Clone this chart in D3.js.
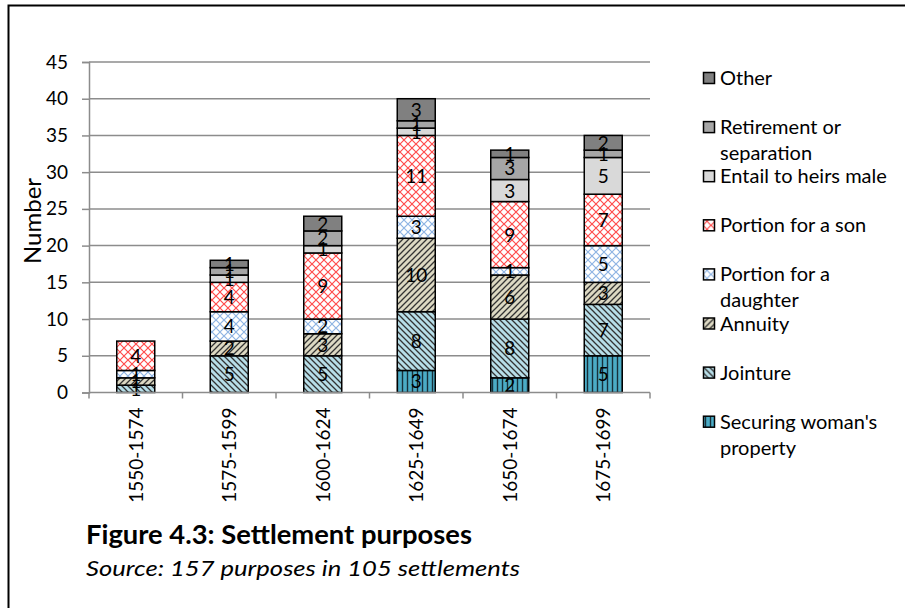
<!DOCTYPE html>
<html><head><meta charset="utf-8">
<script src="https://cdn.jsdelivr.net/npm/d3@7"></script>
<style>
body{margin:0;background:#fff}
svg{display:block}
text{font-family:Lato,"Open Sans",sans-serif;fill:#000}
</style>
</head><body>
<svg id="chart" width="905" height="608"></svg>
<script>
// Settlement purposes per 25-year period
const periods = ["1550-1574","1575-1599","1600-1624","1625-1649","1650-1674","1675-1699"];
const purposes = ["securing","jointure","annuity","daughter","son","entail","retirement","other"];
const securing   = [0, 0, 0, 3, 2, 5];
const jointure   = [1, 5, 5, 8, 8, 7];
const annuity    = [1, 2, 3, 10, 6, 3];
const daughter   = [1, 4, 2, 3, 1, 5];
const son        = [4, 4, 9, 11, 9, 7];
const entail     = [0, 1, 1, 1, 3, 5];
const retirement = [0, 1, 2, 1, 3, 1];
const other      = [0, 1, 2, 3, 1, 2];
const legendLabels = {
  other: ["Other"],
  retirement: ["Retirement or", "separation"],
  entail: ["Entail to heirs male"],
  son: ["Portion for a son"],
  daughter: ["Portion for a", "daughter"],
  annuity: ["Annuity"],
  jointure: ["Jointure"],
  securing: ["Securing woman's", "property"]
};
const yTicks = [0, 5, 10, 15, 20, 25, 30, 35, 40, 45];

const seriesValues = {securing, jointure, annuity, daughter, son, entail, retirement, other};
const rows = periods.map((p, i) => {
  const r = {period: p};
  purposes.forEach(k => r[k] = seriesValues[k][i]);
  return r;
});

const svg = d3.select("#chart");

// outer frame (runs off the right and bottom edges)
svg.append("rect").attr("x", 8.5).attr("y", 5.5).attr("width", 1000).attr("height", 1000)
  .attr("fill", "none").attr("stroke", "#000").attr("stroke-width", 2);

// fill patterns
const defs = svg.append("defs");
function pat(id, size, bg) {
  const p = defs.append("pattern").attr("id", id).attr("patternUnits", "userSpaceOnUse")
    .attr("width", size).attr("height", size);
  p.append("rect").attr("width", size).attr("height", size).attr("fill", bg);
  return p;
}
pat("p-securing", 5, "#4bacc6").append("line").attr("x1", 2.5).attr("x2", 2.5).attr("y1", 0).attr("y2", 5)
  .attr("stroke", "#17303a").attr("stroke-width", 1.4);
pat("p-jointure", 6, "#b7dee8").append("path").attr("d", "M0,0L6,6M-1,5L1,7M5,-1L7,1")
  .attr("stroke", "#333").attr("stroke-width", 1.3);
pat("p-annuity", 6, "#ddd9c3").append("path").attr("d", "M0,6L6,0M-1,1L1,-1M5,7L7,5")
  .attr("stroke", "#333").attr("stroke-width", 1.3);
pat("p-daughter", 8, "#fff").append("path").attr("d", "M0,0L8,8M0,8L8,0")
  .attr("stroke", "#8eb4e3").attr("stroke-width", 1.2);
pat("p-son", 8, "#fff").append("path").attr("d", "M0,0L8,8M0,8L8,0")
  .attr("stroke", "#ff4b4b").attr("stroke-width", 1.2);
const fills = {
  securing: "url(#p-securing)", jointure: "url(#p-jointure)", annuity: "url(#p-annuity)",
  daughter: "url(#p-daughter)", son: "url(#p-son)",
  entail: "#d9d9d9", retirement: "#a6a6a6", other: "#808080"
};

// scales
const x = d3.scaleBand().domain(periods).range([89, 650]).padding(0);
const y = d3.scaleLinear().domain([0, 45]).range([392.5, 62]);
const barW = 38;

// gridlines
svg.append("g").selectAll("line").data(yTicks.filter(t => t > 0)).join("line")
  .attr("x1", 89).attr("x2", 650).attr("y1", d => y(d)).attr("y2", d => y(d))
  .attr("stroke", "#8c8c8c").attr("stroke-width", 1.5);

// y axis
const yAxis = svg.append("g").attr("transform", "translate(89,0)")
  .call(d3.axisLeft(y).tickValues(yTicks).tickSize(7).tickPadding(14));
yAxis.select(".domain").attr("stroke", "#8c8c8c").attr("stroke-width", 1.5);
yAxis.selectAll(".tick line").attr("stroke", "#8c8c8c").attr("stroke-width", 1.5);
yAxis.selectAll(".tick text").style("font-size", "19px").style("font-family", "Lato");

// stacked bars
const stack = d3.stack().keys(purposes)(rows);
const layers = svg.append("g").selectAll("g").data(stack).join("g")
  .attr("fill", d => fills[d.key]);
layers.selectAll("rect").data(d => d.filter(s => s[1] - s[0] > 0)).join("rect")
  .attr("x", d => x(d.data.period) + x.bandwidth() / 2 - barW / 2)
  .attr("width", barW)
  .attr("y", d => y(d[1]))
  .attr("height", d => y(d[0]) - y(d[1]))
  .attr("stroke", "#000").attr("stroke-width", 1.5);

// segment value labels
const labels = svg.append("g");
stack.forEach(layer => {
  layer.forEach(s => {
    const v = s[1] - s[0];
    if (v <= 0) return;
    labels.append("text")
      .attr("x", x(s.data.period) + x.bandwidth() / 2)
      .attr("y", (y(s[0]) + y(s[1])) / 2 + 7)
      .attr("text-anchor", "middle")
      .style("font-size", "19px")
      .text(v);
  });
});

// x axis
const xAxis = svg.append("g").attr("transform", "translate(0,392.5)");
xAxis.append("line").attr("x1", 89).attr("x2", 650).attr("stroke", "#8c8c8c").attr("stroke-width", 1.5);
xAxis.selectAll(".tk").data(d3.range(periods.length + 1)).join("line").attr("class", "tk")
  .attr("x1", i => 89 + i * x.step()).attr("x2", i => 89 + i * x.step())
  .attr("y1", 0).attr("y2", 6).attr("stroke", "#8c8c8c").attr("stroke-width", 1.5);
xAxis.selectAll("text").data(periods).join("text")
  .attr("transform", d => `translate(${x(d) + x.bandwidth() / 2 + 7},15) rotate(-90)`)
  .attr("text-anchor", "end")
  .style("font-size", "19px")
  .text(d => d);

// y axis title
svg.append("text").attr("transform", "translate(41,221) rotate(-90)")
  .attr("text-anchor", "middle").style("font-size", "24px").text("Number");

// legend
const legendOrder = purposes.slice().reverse();
const leg = svg.append("g").selectAll("g").data(legendOrder).join("g")
  .attr("transform", (d, i) => `translate(703,${78 + i * 49.1})`);
leg.append("rect").attr("x", 0.5).attr("y", -5.5).attr("width", 11).attr("height", 11)
  .attr("fill", d => fills[d]).attr("stroke", "#000").attr("stroke-width", 1.5);
leg.append("text").attr("x", 17).attr("y", 7).style("font-size", "20px")
  .selectAll("tspan").data(d => legendLabels[d]).join("tspan")
  .attr("x", 17).attr("dy", (d, i) => i === 0 ? 0 : 26).text(d => d);

// caption
svg.append("text").attr("x", 86).attr("y", 544).style("font-size", "26px").style("font-weight", "bold")
  .attr("textLength", 386).attr("lengthAdjust", "spacingAndGlyphs")
  .text("Figure 4.3: Settlement purposes");
svg.append("text").attr("x", 86).attr("y", 576).style("font-size", "21px").style("font-style", "italic")
  .attr("textLength", 434).attr("lengthAdjust", "spacingAndGlyphs")
  .text("Source: 157 purposes in 105 settlements");
</script>
</body></html>
